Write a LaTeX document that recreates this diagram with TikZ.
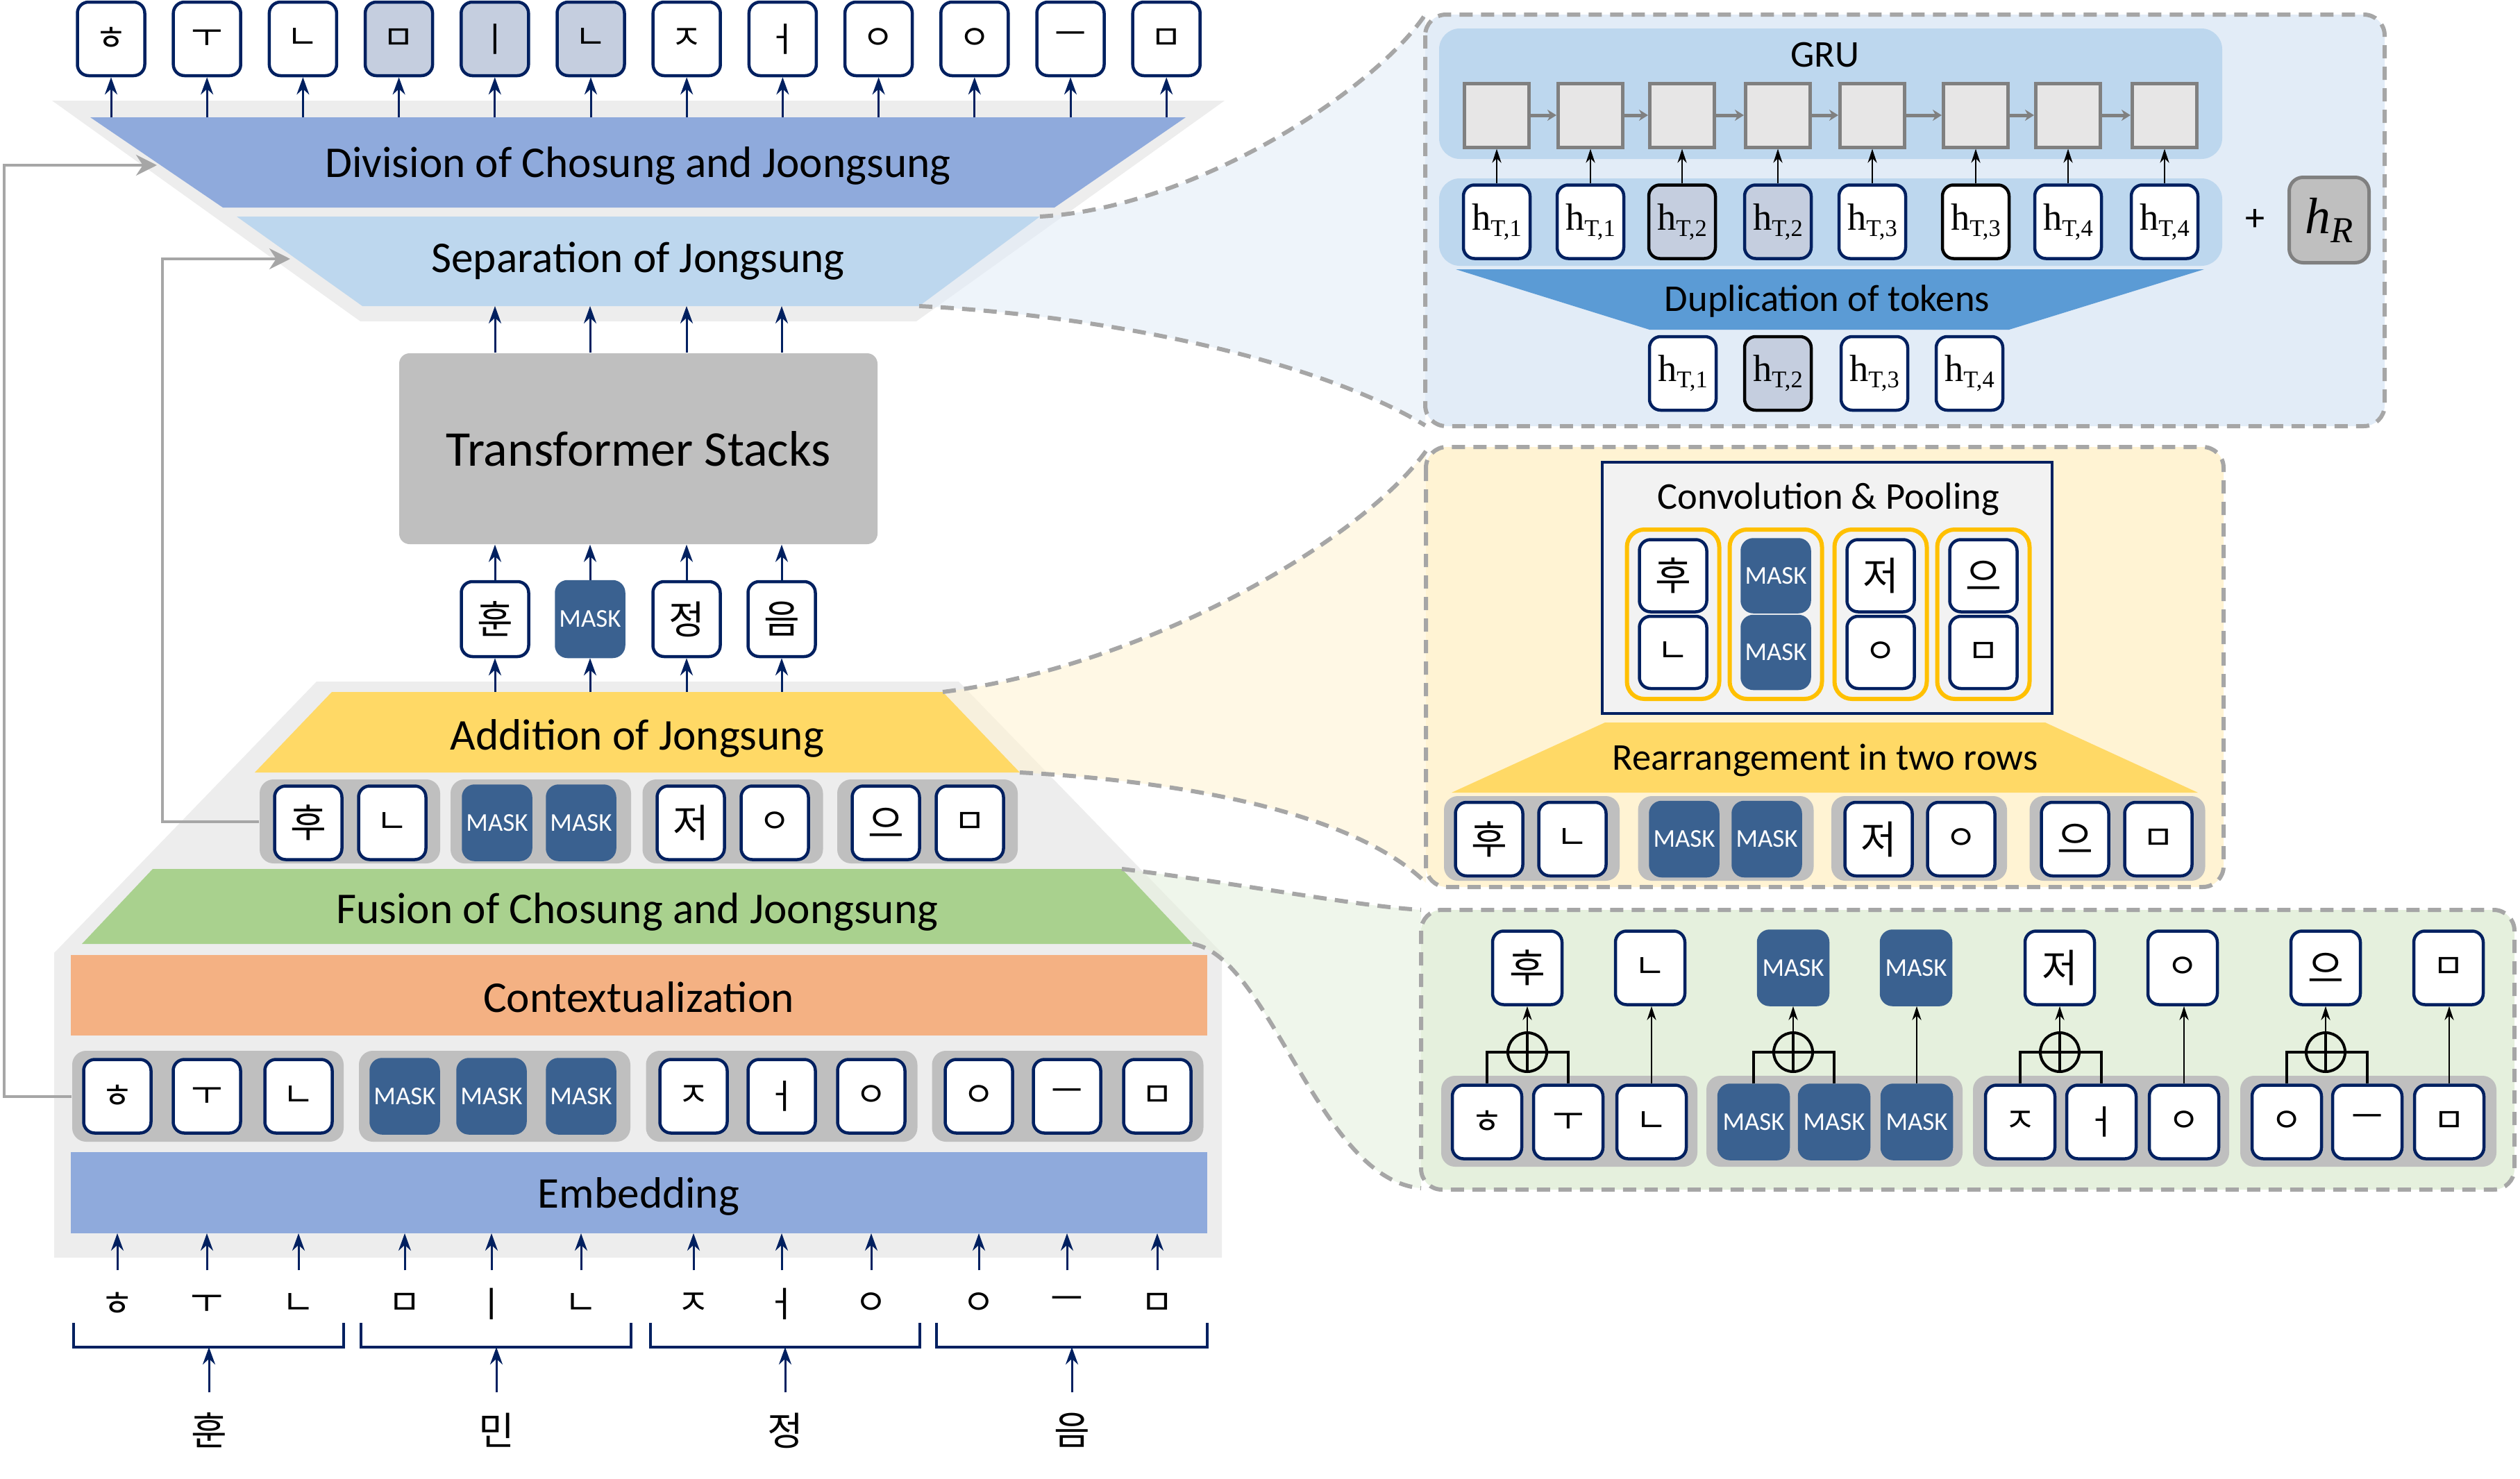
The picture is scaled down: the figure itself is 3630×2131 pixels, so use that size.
\documentclass[tikz,border=0pt]{standalone}
\usepackage{fontspec}
\setmainfont{Carlito}
\newfontfamily\krf{Noto Sans CJK KR}
\newfontfamily\serf{Liberation Serif}
\usetikzlibrary{arrows.meta}
\definecolor{navy}{HTML}{002060}
\definecolor{maskc}{HTML}{3A6190}
\definecolor{hil}{HTML}{C5CEDF}
\definecolor{grp}{HTML}{BFBFBF}
\definecolor{bgc}{HTML}{EDEDED}
\definecolor{divc}{HTML}{8FAADC}
\definecolor{sepc}{HTML}{BDD7EE}
\definecolor{addc}{HTML}{FFD966}
\definecolor{fusc}{HTML}{A9D18E}
\definecolor{conc}{HTML}{F4B183}
\definecolor{dupc}{HTML}{5B9BD5}
\definecolor{dashc}{HTML}{A6A6A6}
\definecolor{cblue}{HTML}{E2ECF7}
\definecolor{cyel}{HTML}{FFF3D3}
\definecolor{cgrn}{HTML}{E5F0DD}
\definecolor{poolc}{HTML}{FFC000}
\definecolor{cellc}{HTML}{E7E6E6}
\definecolor{celld}{HTML}{808080}
\definecolor{convbg}{HTML}{F2F2F2}
\newcommand\hTok[1]{{\serf\fontsize{15.5}{17}\selectfont h\raisebox{-0.9mm}{\fontsize{9.8}{11}\selectfont T,#1}}}
\tikzset{
  tokb/.style={draw=navy, line width=0.45mm, rounded corners=1.6mm, fill=white,
    minimum width=9.7mm, minimum height=10.6mm, inner sep=0pt},
  tok/.style={tokb, font=\krf\fontsize{16}{18}\selectfont},
  jam/.style={tokb, font=\krf\fontsize{14}{16}\selectfont},
  msk/.style={tokb, draw=maskc, fill=maskc, text=white, font=\fontsize{10.5}{12}\selectfont},
  htok/.style={tokb, minimum width=9.6mm},
  grpbox/.style={fill=grp, rounded corners=2mm, inner sep=0pt},
  narr/.style={navy, line width=0.3mm, -{Stealth[length=2.5mm,width=1.8mm]}},
  barr/.style={black, line width=0.28mm, -{Stealth[length=2mm,width=1.3mm]}},
  garr/.style={dashc, line width=0.4mm, -{Stealth[length=3mm,width=3mm]}},
  gcarr/.style={celld, line width=0.5mm, -{Stealth[length=1.3mm,width=1.6mm]}},
  lbl/.style={font=\fontsize{18}{21}\selectfont},
  clbl/.style={font=\fontsize{15.5}{18}\selectfont},
  cdash/.style={draw=dashc, line width=0.6mm, dash pattern=on 1.9mm off 1.2mm},
  cell/.style={draw=celld, fill=cellc, line width=0.5mm, minimum width=9.3mm, minimum height=9.2mm, inner sep=0pt},
  opl/.style={circle, draw=black, line width=0.4mm, minimum size=5.6mm, inner sep=0pt,
    path picture={\draw[line width=0.4mm] (path picture bounding box.north) -- (path picture bounding box.south)
      (path picture bounding box.west) -- (path picture bounding box.east);}},
  thk/.style={black, line width=0.4mm},
  syl/.style={font=\krf\fontsize{16}{18}\selectfont, minimum height=10.8mm, inner sep=0pt},
  jtx/.style={font=\krf\fontsize{14.5}{16}\selectfont, minimum height=9.6mm, inner sep=0pt}
}
\begin{document}
\begin{tikzpicture}[x=0.1mm,y=-0.1mm]
\useasboundingbox (0,0) rectangle (3630,2131);
% ---------- backgrounds ----------
\fill[bgc] (75,145) -- (1764,145) -- (1320,463) -- (519,463) -- cycle;
\fill[bgc] (456,982) -- (1381,982) -- (1760,1373) -- (1760,1812) -- (78,1812) -- (78,1373) -- cycle;
% ---------- cones ----------
\fill[cblue, opacity=0.6] (1498,312) .. controls (1720,300) and (1980,130) .. (2053,21)
  -- (2053,613) .. controls (1900,520) and (1600,455) .. (1324,441) -- cycle;
\fill[cyel, opacity=0.6] (1358,997) .. controls (1650,960) and (1960,780) .. (2054,650)
  -- (2054,1272) .. controls (1950,1170) and (1700,1125) .. (1469,1113) -- cycle;
\fill[cgrn, opacity=0.6] (1616,1252) .. controls (1800,1275) and (1950,1305) .. (2047,1311)
  -- (2047,1712) .. controls (1900,1700) and (1830,1380) .. (1718,1360) -- cycle;
% ---------- layers ----------
\fill[divc] (130,169) -- (1708,169) -- (1519,299) -- (321,299) -- cycle;
\node[lbl] (divl) at (919,239) {Division of Chosung and Joongsung};
\fill[sepc] (341,312) -- (1498,312) -- (1324,441) -- (522,441) -- cycle;
\node[lbl] (sepl) at (919,376) {Separation of Jongsung};
\fill[addc] (478,997) -- (1358,997) -- (1469,1113) -- (367,1113) -- cycle;
\node[lbl] (addl) at (918,1064) {Addition of Jongsung};
\fill[fusc] (220,1252) -- (1616,1252) -- (1718,1360) -- (118,1360) -- cycle;
\node[lbl] (fusl) at (918,1314) {Fusion of Chosung and Joongsung};
\fill[conc] (102,1376) rectangle (1739,1492);
\node[lbl] (conl) at (920,1437) {Contextualization};
\fill[divc] (102,1660) rectangle (1739,1777);
\node[lbl] (embl) at (920,1724) {Embedding};
\coordinate (divtop) at (919,169);
\coordinate (sepbot) at (919,441);
\coordinate (addtop) at (919,997);
\coordinate (embbot) at (919,1777);
% ---------- dashed cone edges ----------
\draw[cdash] (1498,312) .. controls (1720,300) and (1980,130) .. (2053,21);
\draw[cdash] (1324,441) .. controls (1600,455) and (1900,520) .. (2053,613);
\draw[cdash] (1358,997) .. controls (1650,960) and (1960,780) .. (2054,650);
\draw[cdash] (1469,1113) .. controls (1700,1125) and (1950,1170) .. (2054,1272);
\draw[cdash] (1616,1252) .. controls (1800,1275) and (1950,1305) .. (2047,1311);
\draw[cdash] (1718,1360) .. controls (1830,1380) and (1900,1700) .. (2047,1712);
% ---------- top output row ----------
\foreach \ch/\fc [count=\i from 0] in {ㅎ/white,ㅜ/white,ㄴ/white,ㅁ/hil,ㅣ/hil,ㄴ/hil,ㅈ/white,ㅓ/white,ㅇ/white,ㅇ/white,ㅡ/white,ㅁ/white}{
  \pgfmathsetmacro\xx{160+138.2*\i}
  \node[jam, fill=\fc] (o\i) at (\xx,56) {\ch};
  \draw[narr] (o\i.south |- divtop) -- (o\i.south);
}
% ---------- transformer ----------
\node[fill=grp, rounded corners=1.5mm, minimum width=68.9mm, minimum height=27.5mm,
  font=\fontsize{20.5}{24}\selectfont] (tf) at (919.5,646.5) {Transformer Stacks};
\foreach \ch/\xx/\st [count=\i] in {훈/713/tok, MASK/850/msk, 정/989/tok, 음/1126/tok}{
  \node[\st, minimum height=10.8mm] (m\i) at (\xx,892) {\ch};
  \draw[narr] (m\i.north) -- (m\i.north |- tf.south);
  \draw[narr] (m\i.north |- tf.north) -- (m\i.north |- sepbot);
  \draw[narr] (m\i.south |- addtop) -- (m\i.south);
}
% ---------- addition row ----------
\foreach \xx [count=\i] in {504,779,1055.5,1336}{
  \node[grpbox, minimum width=26mm, minimum height=12.1mm] (ag\i) at (\xx,1183.5) {};
}
\foreach \ch/\xx/\st [count=\i] in {후/444/tok, ㄴ/565/jam, MASK/716/msk, MASK/837/msk, 저/995/tok, ㅇ/1116/jam, 으/1276/tok, ㅁ/1397/jam}{
  \node[\st] (a\i) at (\xx,1185.5) {\ch};
}
% ---------- bottom token row ----------
\foreach \xx [count=\i] in {299.5,712.5,1126,1538}{
  \node[grpbox, minimum width=39.1mm, minimum height=13.1mm] (bg\i) at (\xx,1579.5) {};
}
\foreach \ch/\xx/\st [count=\i] in {ㅎ/169/jam, ㅜ/298/jam, ㄴ/430/jam, MASK/583/msk, MASK/708/msk, MASK/837/msk, ㅈ/999/jam, ㅓ/1126/jam, ㅇ/1255/jam, ㅇ/1410/jam, ㅡ/1537/jam, ㅁ/1667/jam}{
  \node[\st] (b\i) at (\xx,1579.5) {\ch};
}
\foreach \ch/\xx [count=\i] in {ㅎ/169, ㅜ/298, ㄴ/430, ㅁ/583, ㅣ/708, ㄴ/837, ㅈ/999, ㅓ/1126, ㅇ/1255, ㅇ/1410, ㅡ/1537, ㅁ/1667}{
  \node[jtx] (j\i) at (\xx,1879) {\ch};
  \draw[narr] (j\i.north) -- (j\i.north |- embbot);
}
% ---------- braces & syllables ----------
\foreach \la/\lb/\mm/\sy [count=\i] in {106/495/301/훈, 520/909/715/민, 937/1325/1131/정, 1349/1739/1544/음}{
  \draw[navy, line width=0.45mm] (\la,1906) -- (\la,1941) -- (\lb,1941) -- (\lb,1906);
  \coordinate (br\i) at (\mm,1941);
  \node[syl] (s\i) at (\mm,2061) {\sy};
  \draw[narr] (s\i.north) -- (br\i);
}
% ---------- feedback arrows ----------
\coordinate (fbA) at (6,238);
\coordinate (divL) at (226,238);
\draw[garr] (bg1.west) -| (fbA) -- (divL);
\coordinate (fbB) at (234,373);
\coordinate (sepL) at (418,373);
\draw[garr] (ag1.west) -| (fbB) -- (sepL);
% =================== blue callout ===================
\draw[cdash, fill=cblue, rounded corners=3mm] (2053,21) rectangle (3435,614);
\fill[sepc, rounded corners=3mm] (2073,41) rectangle (3201,229);
\node[clbl] (grul) at (2629,79) {GRU};
\fill[sepc, rounded corners=3mm] (2073,257) rectangle (3201,383);
\foreach \xx/\nn/\fc/\dc [count=\i] in {2156/1/white/navy, 2291/1/white/navy, 2423/2/hil/black, 2561/2/hil/navy, 2697/3/white/navy, 2846/3/white/black, 2979/4/white/navy, 3118/4/white/navy}{
  \node[cell] (c\i) at (\xx,166) {};
  \node[htok, fill=\fc, draw=\dc] (ht\i) at (\xx,319.5) {\hTok{\nn}};
  \draw[barr] (ht\i.north) -- (c\i.south);
}
\foreach \i [evaluate=\i as \j using int(\i+1)] in {1,...,7}{
  \draw[gcarr] (c\i.east) -- (c\j.west);
}
\node[font=\fontsize{16}{18}\selectfont] (plus) at (3248,317) {+};
\node[fill=grp, draw=celld, line width=0.5mm, rounded corners=2mm, minimum width=11.5mm,
  minimum height=12.3mm] (hR) at (3355,317)
  {{\serf\itshape\fontsize{21}{24}\selectfont h\raisebox{-1.3mm}{\fontsize{15}{17}\selectfont R}}};
\fill[dupc] (2097,388) -- (3175,388) -- (2894,475) -- (2376,475) -- cycle;
\node[clbl] (dupl) at (2632,434) {Duplication of tokens};
\foreach \xx/\nn/\fc/\dc [count=\i] in {2424/1/white/navy, 2561/2/hil/black, 2700/3/white/navy, 2837/4/white/navy}{
  \node[htok, fill=\fc, draw=\dc] (hb\i) at (\xx,538) {\hTok{\nn}};
}
% =================== yellow callout ===================
\draw[cdash, fill=cyel, rounded corners=3mm] (2054,644) rectangle (3203,1278);
\draw[navy, line width=0.45mm, fill=convbg] (2308,666) rectangle (2956,1028);
\node[clbl] (convl) at (2634,719) {Convolution \& Pooling};
\foreach \xx/\ta/\sta/\tb/\stb [count=\i] in {2410/후/tok/ㄴ/jam, 2558/MASK/msk/MASK/msk, 2709/저/tok/ㅇ/jam, 2857/으/tok/ㅁ/jam}{
  \node[draw=poolc, line width=0.6mm, rounded corners=2.5mm, minimum width=13.3mm, minimum height=24.4mm] (pg\i) at (\xx,885) {};
  \node[\sta, minimum height=10.4mm] (pt\i) at (\xx,829.5) {\ta};
  \node[\stb, minimum height=10.4mm] (pb\i) at (\xx,940) {\tb};
}
\fill[addc] (2312,1041) -- (2946,1041) -- (3166,1142) -- (2091,1142) -- cycle;
\node[clbl] (rearl) at (2629,1095) {Rearrangement in two rows};
\foreach \xx [count=\i] in {2206.5,2486,2764.5,3050}{
  \node[grpbox, minimum width=25.3mm, minimum height=12.2mm] (yg\i) at (\xx,1208) {};
}
\foreach \ch/\xx/\st [count=\i] in {후/2145/tok, ㄴ/2265/jam, MASK/2426/msk, MASK/2545/msk, 저/2706/tok, ㅇ/2825/jam, 으/2989/tok, ㅁ/3109/jam}{
  \node[\st] (yt\i) at (\xx,1209) {\ch};
}
% =================== green callout ===================
\draw[cdash, fill=cgrn, rounded corners=3mm] (2047,1311) rectangle (3622,1714);
\foreach \ch/\xx/\st [count=\i] in {후/2200/tok, ㄴ/2377/jam, MASK/2583/msk, MASK/2760/msk, 저/2967/tok, ㅇ/3144/jam, 으/3350/tok, ㅁ/3527/jam}{
  \node[\st, minimum width=10mm] (gt\i) at (\xx,1394.5) {\ch};
}
\foreach \xx [count=\i] in {2260.5,2642.5,3026.5,3411.5}{
  \node[grpbox, minimum width=36.9mm, minimum height=13.1mm] (gg\i) at (\xx,1615.5) {};
}
\foreach \ch/\xx/\st [count=\i] in {ㅎ/2142/jam, ㅜ/2259/jam, ㄴ/2379/jam, MASK/2526/msk, MASK/2642/msk, MASK/2761/msk, ㅈ/2910/jam, ㅓ/3027/jam, ㅇ/3146/jam, ㅇ/3294/jam, ㅡ/3410/jam, ㅁ/3528/jam}{
  \node[\st, minimum width=10mm] (gq\i) at (\xx,1616.5) {\ch};
}
\foreach \k/\xx/\qa/\qb/\qc/\ta/\tb in {1/2200/1/2/3/1/2, 2/2583/4/5/6/3/4, 3/2967/7/8/9/5/6, 4/3350/10/11/12/7/8}{
  \node[opl] (op\k) at (\xx,1516) {};
  \draw[thk] (gq\qa.north) |- (op\k.west);
  \draw[thk] (gq\qb.north) |- (op\k.east);
  \draw[barr] (op\k.north) -- (gt\ta.south);
  \draw[barr] (gq\qc.north) -- (gq\qc.north |- gt\tb.south);
}
\end{tikzpicture}
\end{document}
